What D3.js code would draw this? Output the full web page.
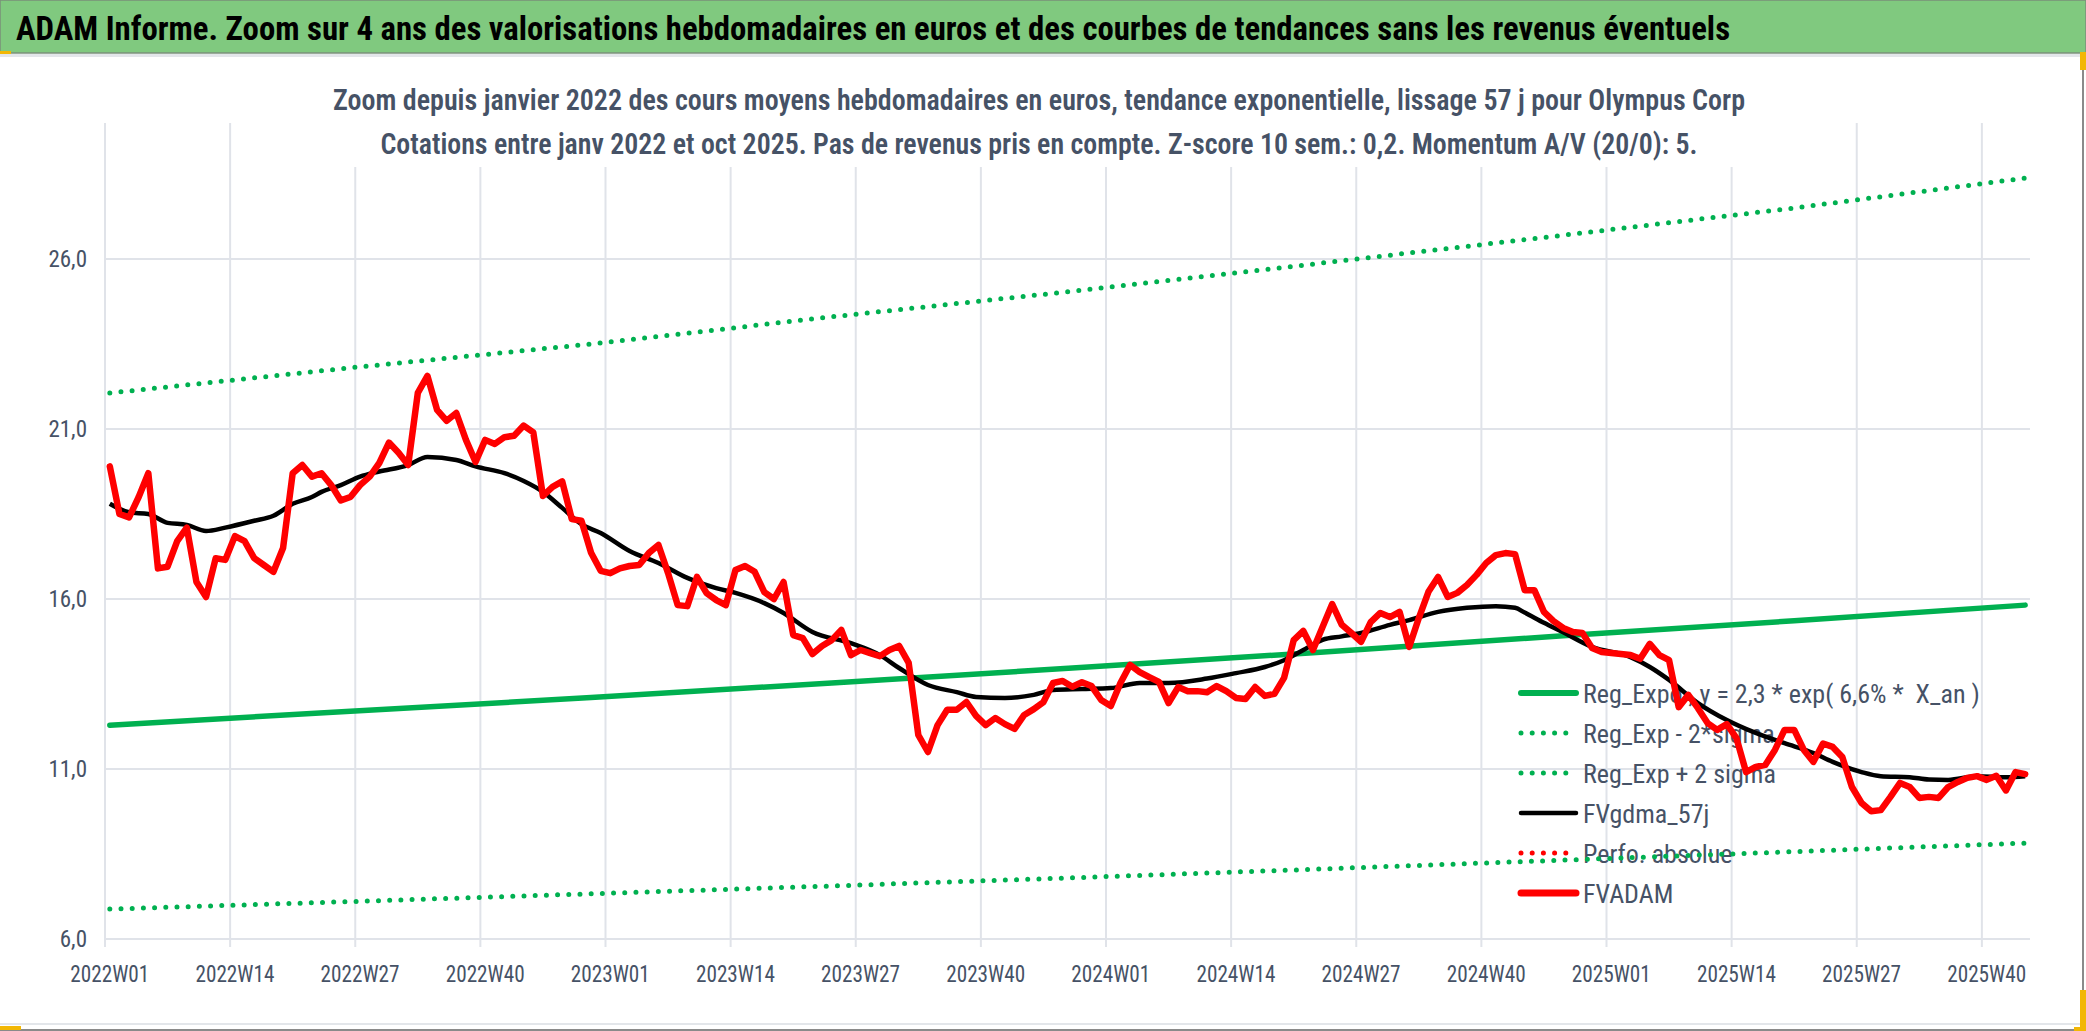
<!DOCTYPE html>
<html>
<head>
<meta charset="utf-8">
<script src="https://cdn.jsdelivr.net/npm/d3@7"></script>
<style>
  html, body { margin: 0; padding: 0; background: #fff; }
  svg { display: block; }
</style>
</head>
<body>
<div id="chart"></div>
<script>
// Texts
const titleText = 'ADAM Informe. Zoom sur 4 ans des valorisations hebdomadaires en euros et des courbes de tendances sans les revenus éventuels';
const subtitleLines = [
  'Zoom depuis janvier 2022 des cours moyens hebdomadaires en euros, tendance exponentielle, lissage 57 j pour Olympus Corp',
  'Cotations entre janv 2022 et oct 2025. Pas de revenus pris en compte. Z-score 10 sem.: 0,2. Momentum A/V (20/0): 5.'
];
const tickLabels = ['2022W01', '2022W14', '2022W27', '2022W40', '2023W01', '2023W14', '2023W27', '2023W40',
  '2024W01', '2024W14', '2024W27', '2024W40', '2025W01', '2025W14', '2025W27', '2025W40'];
const yTicks = [6, 11, 16, 21, 26];
const legendLabels = ['Reg_Expo , y = 2,3 * exp( 6,6% *  X_an )', 'Reg_Exp - 2*sigma', 'Reg_Exp + 2 sigma',
  'FVgdma_57j', 'Perfo. absolue', 'FVADAM'];

// Weekly categories 2022W01 .. 2025W44
const weeks = d3.range(200).map(i => `${2022 + Math.floor(i / 52)}W${String(i % 52 + 1).padStart(2, '0')}`);

// FVADAM weekly values
const fvadam = [
  19.9, 18.5, 18.4, 19.0, 19.7, 16.9, 16.95, 17.7, 18.1, 16.5,
  16.06, 17.2, 17.15, 17.85, 17.7, 17.2, 17.0, 16.8, 17.5, 19.7,
  19.94, 19.6, 19.7, 19.35, 18.9, 19.0, 19.35, 19.6, 20.0, 20.6,
  20.3, 19.94, 22.06, 22.56, 21.56, 21.24, 21.47, 20.68, 20.03, 20.68,
  20.56, 20.76, 20.8, 21.1, 20.9, 19.03, 19.3, 19.46, 18.35, 18.3,
  17.36, 16.83, 16.76, 16.9, 16.97, 17.0, 17.35, 17.59, 16.76, 15.82,
  15.79, 16.65, 16.17, 15.97, 15.82, 16.85, 16.97, 16.8, 16.2, 16.0,
  16.5, 14.94, 14.85, 14.38, 14.62, 14.79, 15.09, 14.35, 14.5, 14.41,
  14.32, 14.5, 14.62, 14.12, 12.0, 11.5, 12.29, 12.74, 12.74, 12.97,
  12.56, 12.29, 12.5, 12.32, 12.18, 12.59, 12.76, 12.97, 13.53, 13.59,
  13.42, 13.55, 13.44, 13.03, 12.85, 13.53, 14.06, 13.85, 13.7, 13.56,
  12.94, 13.41, 13.29, 13.29, 13.26, 13.44, 13.29, 13.09, 13.06, 13.41,
  13.15, 13.21, 13.68, 14.79, 15.06, 14.5, 15.18, 15.85, 15.24, 15.0,
  14.74, 15.32, 15.59, 15.47, 15.62, 14.59, 15.44, 16.21, 16.65, 16.06,
  16.18, 16.41, 16.71, 17.06, 17.29, 17.35, 17.32, 16.26, 16.26, 15.62,
  15.35, 15.15, 15.03, 15.0, 14.56, 14.44, 14.41, 14.38, 14.35, 14.24,
  14.68, 14.35, 14.2, 12.82, 13.18, 12.79, 12.35, 12.15, 12.32, 11.91,
  10.91, 11.06, 11.12, 11.56, 12.15, 12.15, 11.56, 11.21, 11.75, 11.65,
  11.35, 10.47, 10.0, 9.76, 9.79, 10.18, 10.59, 10.47, 10.15, 10.18,
  10.15, 10.47, 10.62, 10.74, 10.79, 10.68, 10.8, 10.37, 10.91, 10.85
];

// FVgdma_57j smoothed curve, read at these weeks
const smoothWeeks = [0, 2, 4, 6, 8, 10, 12, 15, 17, 19, 21, 22, 24, 26, 28, 31, 33, 36, 38, 41,
  43, 45, 47, 49, 51, 54, 57, 60, 63, 65, 68, 70, 73, 77, 80, 82, 85, 88, 90, 93,
  96, 98, 101, 104, 107, 110, 114, 117, 120, 122, 124, 126, 128, 130, 133, 135, 138, 141, 144, 146,
  147, 149, 151, 154, 158, 160, 162, 165, 168, 171, 174, 177, 179, 182, 184, 187, 189, 191, 194, 197, 199];
const smoothValues = [18.8, 18.55, 18.5, 18.24, 18.18, 18.0, 18.1, 18.3, 18.45, 18.8, 19.0, 19.15, 19.35, 19.6, 19.75, 19.94, 20.18, 20.09, 19.9, 19.7,
  19.47, 19.15, 18.68, 18.2, 17.94, 17.41, 17.06, 16.62, 16.32, 16.18, 15.88, 15.59, 15.03, 14.7, 14.35, 13.97, 13.47, 13.26, 13.12, 13.09,
  13.18, 13.32, 13.35, 13.38, 13.53, 13.53, 13.66, 13.82, 14.0, 14.2, 14.5, 14.8, 14.9, 15.0, 15.24, 15.38, 15.62, 15.74, 15.79, 15.74,
  15.6, 15.3, 15.02, 14.59, 14.29, 14.0, 13.62, 12.94, 12.44, 12.06, 11.76, 11.47, 11.21, 10.91, 10.79, 10.76, 10.69, 10.68, 10.79, 10.76, 10.79];

// Exponential regression and +/- 2 sigma bands, read at these weeks
const trendWeeks = [0, 25, 50, 75, 100, 125, 151, 175, 199];
const regExpo = [12.29, 12.7, 13.1, 13.53, 13.97, 14.42, 14.92, 15.36, 15.82];
const regExpPlus = [22.06, 22.8, 23.5, 24.3, 25.05, 25.85, 26.7, 27.5, 28.38];
const regExpMinus = [6.88, 7.1, 7.33, 7.56, 7.8, 8.05, 8.32, 8.57, 8.82];

const W = 2086, H = 1031;
const margin = { left: 105, right: 2030, top: 89, bottom: 939 };
const textColor = '#465266';
const gridColor = '#e0e3e9';
const narrow = '"Liberation Sans Narrow", "Arial Narrow", "Roboto Condensed", "Liberation Sans", sans-serif';

const svg = d3.select('#chart').append('svg')
  .attr('width', W).attr('height', H)
  .attr('viewBox', `0 0 ${W} ${H}`);

svg.append('rect').attr('width', W).attr('height', H).attr('fill', '#fff');

const x = d3.scalePoint().domain(weeks).range([margin.left, margin.right]).padding(0.5);
const y = d3.scaleLinear().domain([6, 31]).range([margin.bottom, margin.top]);
const step = x.step();

// Grid
const gGrid = svg.append('g').attr('class', 'grid');
gGrid.selectAll('line.h').data(yTicks.concat([31])).join('line')
  .attr('class', 'h')
  .attr('x1', margin.left).attr('x2', margin.right)
  .attr('y1', d => y(d)).attr('y2', d => y(d))
  .attr('stroke', gridColor).attr('stroke-width', 2);
gGrid.selectAll('line.v').data(tickLabels).join('line')
  .attr('class', 'v')
  .attr('x1', d => x(d) - step / 2).attr('x2', d => x(d) - step / 2)
  .attr('y1', margin.top).attr('y2', margin.bottom + 8)
  .attr('stroke', gridColor).attr('stroke-width', 2);

// Title boxes hide the top of the grid
svg.append('rect').attr('x', 0).attr('y', 55).attr('width', W).attr('height', 68).attr('fill', '#fff');
svg.append('rect').attr('x', 245).attr('y', 55).attr('width', 1595).attr('height', 112).attr('fill', '#fff');

// Axis labels
svg.append('g').selectAll('text').data(yTicks).join('text')
  .attr('x', 87).attr('y', d => y(d) + 8)
  .attr('text-anchor', 'end')
  .attr('fill', textColor)
  .style('font-family', narrow).style('font-size', '23px')
  .text(d => d3.format('.1f')(d).replace('.', ','));

svg.append('g').selectAll('text').data(tickLabels).join('text')
  .attr('x', d => x(d)).attr('y', 982)
  .attr('text-anchor', 'middle')
  .attr('fill', textColor)
  .attr('textLength', 79).attr('lengthAdjust', 'spacingAndGlyphs')
  .style('font-family', narrow).style('font-size', '23px')
  .text(d => d);

// Legend (drawn under the series, as in the source)
const legendStyles = [
  { color: '#00b050', width: 6, dash: null },
  { color: '#00b050', width: 5, dash: '0 11.2' },
  { color: '#00b050', width: 5, dash: '0 11.2' },
  { color: '#000000', width: 4.5, dash: null },
  { color: '#ff0000', width: 5, dash: '0 11.2' },
  { color: '#ff0000', width: 7, dash: null }
];
const gLegend = svg.append('g').attr('class', 'legend');
legendLabels.forEach((label, i) => {
  const cy = 693 + i * 40;
  const st = legendStyles[i];
  gLegend.append('line')
    .attr('x1', 1521).attr('x2', 1576).attr('y1', cy).attr('y2', cy)
    .attr('stroke', st.color).attr('stroke-width', st.width)
    .attr('stroke-linecap', 'round')
    .attr('stroke-dasharray', st.dash);
  gLegend.append('text')
    .attr('x', 1583).attr('y', cy + 10)
    .attr('fill', textColor)
    .style('font-family', narrow).style('font-size', '26px')
    .style('white-space', 'pre')
    .text(label);
});

// Series
const gSeries = svg.append('g').attr('class', 'series');
const pairLine = d3.line().x(d => x(weeks[d[0]])).y(d => y(d[1]));
const zipPairs = (idx, vals) => idx.map((w, i) => [w, vals[i]]);

[regExpMinus, regExpPlus].forEach(vals => {
  gSeries.append('path')
    .datum(zipPairs(trendWeeks, vals))
    .attr('d', pairLine)
    .attr('fill', 'none').attr('stroke', '#00b050').attr('stroke-width', 5)
    .attr('stroke-linecap', 'round').attr('stroke-dasharray', '0 11.2');
});

gSeries.append('path')
  .datum(zipPairs(trendWeeks, regExpo))
  .attr('d', pairLine)
  .attr('fill', 'none').attr('stroke', '#00b050').attr('stroke-width', 5.5)
  .attr('stroke-linecap', 'round');

gSeries.append('path')
  .datum(zipPairs(smoothWeeks, smoothValues))
  .attr('d', pairLine.curve(d3.curveMonotoneX))
  .attr('fill', 'none').attr('stroke', '#000').attr('stroke-width', 4.5)
  .attr('stroke-linejoin', 'round');

gSeries.append('path')
  .datum(fvadam.map((v, i) => [i, v]))
  .attr('d', d3.line().x(d => x(weeks[d[0]])).y(d => y(d[1])))
  .attr('fill', 'none').attr('stroke', '#ff0000').attr('stroke-width', 6.5)
  .attr('stroke-linejoin', 'round').attr('stroke-linecap', 'round');

// Title banner
svg.append('rect').attr('x', 0).attr('y', 0).attr('width', W).attr('height', 53)
  .attr('fill', '#80c97f').attr('stroke', '#7a8f7a').attr('stroke-width', 1.5);
svg.append('text')
  .attr('x', 16).attr('y', 40)
  .attr('fill', '#000')
  .attr('textLength', 1714).attr('lengthAdjust', 'spacingAndGlyphs')
  .style('font-family', narrow).style('font-size', '34px').style('font-weight', 'bold')
  .text(titleText);
svg.append('rect').attr('x', 0).attr('y', 54).attr('width', W).attr('height', 3).attr('fill', '#e3e6ea');

// Subtitle
const subLen = [1412, 1317];
const subY = [110, 154];
subtitleLines.forEach((t, i) => {
  svg.append('text')
    .attr('x', 1039).attr('y', subY[i])
    .attr('text-anchor', 'middle')
    .attr('fill', textColor)
    .attr('textLength', subLen[i]).attr('lengthAdjust', 'spacingAndGlyphs')
    .style('font-family', narrow).style('font-size', '30px').style('font-weight', '600')
    .text(t);
});

// Frame and selection marks
svg.append('line').attr('x1', 0).attr('x2', W).attr('y1', 1024).attr('y2', 1024).attr('stroke', '#e3e6ea').attr('stroke-width', 2);
svg.append('line').attr('x1', 0).attr('x2', W).attr('y1', 1030).attr('y2', 1030).attr('stroke', '#8a8a8a').attr('stroke-width', 2);
svg.append('line').attr('x1', 2083).attr('x2', 2083).attr('y1', 53).attr('y2', H).attr('stroke', '#8a8a8a').attr('stroke-width', 2);
svg.append('rect').attr('x', 0).attr('y', 51).attr('width', 11).attr('height', 3).attr('fill', '#f2b705');
svg.append('rect').attr('x', 2080).attr('y', 52).attr('width', 6).attr('height', 18).attr('fill', '#f2b705');
svg.append('rect').attr('x', 0).attr('y', 1026).attr('width', 21).attr('height', 4).attr('fill', '#f2b705');
svg.append('rect').attr('x', 2080).attr('y', 990).attr('width', 6).attr('height', 41).attr('fill', '#f2b705');
svg.append('rect').attr('x', 2074).attr('y', 1027).attr('width', 12).attr('height', 4).attr('fill', '#f2b705');
</script>
</body>
</html>
